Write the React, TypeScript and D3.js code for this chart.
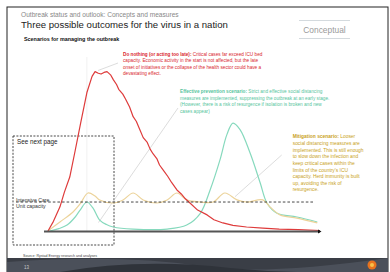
import React, { useEffect, useRef } from 'react';
import * as d3 from 'd3';

// time units 0..100 on the x axis, share of peak cases 0..100 on y
const redTime = [0, 2, 4.4, 6, 8, 10, 12, 14.3, 16.2, 17.3, 18.5, 19.5, 20.6, 21.7, 23, 24, 25.2, 26, 27.5, 28.5, 30, 31.3, 32.5, 33.5, 35, 36.5, 37.5, 38.6, 40, 41, 42.3, 44, 45.5, 47.4, 49, 50.5, 52.2, 55, 58.5, 61, 64.3, 68, 73, 79, 85, 92, 100];
const redCases = [0, 6, 15, 24, 33.5, 50, 67, 86, 96, 99, 98, 97.5, 98.5, 99, 97, 94, 91, 88, 85, 82, 77, 71, 68, 64, 58, 55, 51, 48, 45, 41, 38, 34, 30, 25.5, 23, 20, 17.4, 13, 10, 7, 5, 3.5, 2.5, 1.8, 1.2, 0.8, 0.3];

const greenTime = [0.7, 4, 7, 10, 11.8, 14.3, 16.5, 19, 21.5, 24, 31.3, 43.8, 51, 56, 59.6, 63.2, 65.8, 68, 70.6, 74.3, 78, 80.5, 84.2, 91.5, 99];
const greenCases = [0, 1.5, 3.7, 8.7, 13, 18, 14.3, 6.8, 4, 2.5, 1.2, 1.2, 3.7, 11, 25.5, 44, 60, 67, 63, 48.4, 30, 17.4, 11, 8.7, 5.6];

const yellowTime = [0, 4.4, 9.2, 11.8, 14.7, 17.3, 19, 24, 27.6, 31.3, 35, 40, 43.8, 47.4, 51, 56, 60.7, 65, 69.5, 73, 79, 81.6, 85.3, 91.5, 99];
const yellowCases = [0, 5.6, 11.8, 16.8, 23.6, 21.7, 19.3, 17.4, 19.3, 23.6, 19.3, 17.4, 19.3, 23.6, 19.3, 18, 18, 23.6, 19.3, 18, 19.3, 15, 10, 8, 5];

const icuCapacity = 18;
const peakMarker = 14.3;

const redNote = [
  ['Do nothing (or acting too late):', ' Critical cases far exceed ICU bed'],
  ['', 'capacity. Economic activity in the start is not affected, but the late'],
  ['', 'onset of initiatives or the collapse of the health sector could have a'],
  ['', 'devastating effect.'],
];
const greenNote = [
  ['Effective prevention scenario:', ' Strict and effective social distancing'],
  ['', 'measures are implemented, suppressing the outbreak at an early stage.'],
  ['', '(However, there is a risk of resurgence if isolation is broken and new'],
  ['', 'cases appear)'],
];
const yellowNote = [
  ['Mitigation scenario:', ' Looser'],
  ['', 'social distancing measures are'],
  ['', 'implemented. This is still enough'],
  ['', 'to slow down the infection and'],
  ['', 'keep critical cases within the'],
  ['', "limits of the country's ICU"],
  ['', 'capacity.  Herd immunity is built'],
  ['', 'up, avoiding the risk of'],
  ['', 'resurgence.'],
];

const font = '"Liberation Sans", Arial, sans-serif';

export default function App() {
  const ref = useRef<SVGSVGElement>(null);

  useEffect(() => {
    const svg = d3.select(ref.current);
    svg.selectAll('*').remove();

    const x = d3.scaleLinear().domain([0, 100]).range([48, 320]);
    const y = d3.scaleLinear().domain([0, 100]).range([231, 70]);

    // slide frame
    svg.append('rect').attr('width', 390).attr('height', 272).attr('fill', '#fff');
    svg.append('rect').attr('x', 7).attr('y', 7).attr('width', 381).attr('height', 270)
      .attr('fill', '#fff').attr('stroke', '#222').attr('stroke-width', 1);

    // footer band
    svg.append('rect').attr('x', 7).attr('y', 258).attr('width', 381).attr('height', 14).attr('fill', '#3a3e46');
    svg.append('path').attr('d', 'M7,262 Q120,254 200,266 Q260,276 388,258 L388,272 L7,272 Z').attr('fill', '#4b505a');
    svg.append('path').attr('d', 'M60,272 Q140,258 230,268 Q280,273 330,272 Z').attr('fill', '#2f333a');
    svg.append('text').attr('x', 24).attr('y', 268.5).text('13')
      .attr('font-family', font).attr('font-size', 4.5).attr('fill', '#c8c8c8');
    svg.append('circle').attr('cx', 372).attr('cy', 265).attr('r', 4.5).attr('fill', '#e8731e');
    svg.append('circle').attr('cx', 372).attr('cy', 265).attr('r', 2).attr('fill', '#f6c14a');

    // headings
    svg.append('text').attr('x', 21).attr('y', 17).text('Outbreak status and outlook: Concepts and measures')
      .attr('font-family', font).attr('font-size', 6.6).attr('fill', '#888');
    svg.append('text').attr('x', 21).attr('y', 28).text('Three possible outcomes for the virus in a nation')
      .attr('font-family', font).attr('font-size', 9.6).attr('fill', '#222');
    svg.append('text').attr('x', 24).attr('y', 41).text('Scenarios for managing the outbreak')
      .attr('font-family', font).attr('font-size', 5.4).attr('font-weight', 'bold').attr('fill', '#111');

    svg.append('line').attr('x1', 299).attr('x2', 350).attr('y1', 20.5).attr('y2', 20.5).attr('stroke', '#c9d0d6').attr('stroke-width', 0.8);
    svg.append('line').attr('x1', 299).attr('x2', 350).attr('y1', 38.5).attr('y2', 38.5).attr('stroke', '#c9d0d6').attr('stroke-width', 0.8);
    svg.append('text').attr('x', 324.5).attr('y', 33).attr('text-anchor', 'middle').text('Conceptual')
      .attr('font-family', font).attr('font-size', 8.4).attr('fill', '#9a9a9a');

    // peak marker and ICU line
    svg.append('line').attr('x1', x(peakMarker)).attr('x2', x(peakMarker)).attr('y1', 57).attr('y2', y(0))
      .attr('stroke', '#e6e6e6').attr('stroke-width', 0.6);

    // see next page box
    svg.append('rect').attr('x', 13).attr('y', 136).attr('width', 101).attr('height', 109)
      .attr('fill', 'none').attr('stroke', '#333').attr('stroke-width', 0.9).attr('stroke-dasharray', '2,1.4');
    svg.append('text').attr('x', 17).attr('y', 143.5).text('See next page')
      .attr('font-family', font).attr('font-size', 6.3).attr('fill', '#222');

    // pointers
    const pointers = [[118, 63, 98, 70.5], [178, 108, 98.5, 222.5], [281.7, 155, 235, 196.7]];
    svg.append('g').selectAll('line').data(pointers).enter().append('line')
      .attr('x1', (d) => d[0]).attr('y1', (d) => d[1]).attr('x2', (d) => d[2]).attr('y2', (d) => d[3])
      .attr('stroke', '#c4c4c4').attr('stroke-width', 0.6);

    // curves
    const line = (curve: d3.CurveFactory) => d3.line<[number, number]>()
      .x((d) => x(d[0])).y((d) => y(d[1])).curve(curve);
    const pair = (t: number[], v: number[]) => t.map((d, i) => [d, v[i]] as [number, number]);

    svg.append('path').attr('d', line(d3.curveCatmullRom)(pair(greenTime, greenCases)))
      .attr('fill', 'none').attr('stroke', '#86d9bd').attr('stroke-width', 1.2);
    svg.append('path').attr('d', line(d3.curveCatmullRom)(pair(yellowTime, yellowCases)))
      .attr('fill', 'none').attr('stroke', '#ecd39a').attr('stroke-width', 1.2);
    svg.append('path').attr('d', line(d3.curveLinear)(pair(redTime, redCases)))
      .attr('fill', 'none').attr('stroke', '#de3b3b').attr('stroke-width', 1.2).attr('stroke-linejoin', 'round');

    svg.append('line').attr('x1', 16).attr('x2', 313).attr('y1', y(icuCapacity)).attr('y2', y(icuCapacity))
      .attr('stroke', '#333').attr('stroke-width', 0.9).attr('stroke-dasharray', '2.6,2');
    svg.append('text').attr('x', 16).attr('y', 201.5).text('Intensive Care')
      .attr('font-family', font).attr('font-size', 5.2).attr('fill', '#333');
    svg.append('text').attr('x', 16).attr('y', 207.5).text('Unit capacity')
      .attr('font-family', font).attr('font-size', 5.2).attr('fill', '#333');

    // x axis
    svg.append('line').attr('x1', 44).attr('x2', x(100)).attr('y1', y(0) + 0.5).attr('y2', y(0) + 0.5)
      .attr('stroke', '#555').attr('stroke-width', 1.8);
    svg.append('path').attr('d', `M${x(100) - 2},${y(0) - 1.5} L${x(100) + 1.5},${y(0) + 0.5} L${x(100) - 2},${y(0) + 2.5} Z`).attr('fill', '#111');

    // notes
    const note = (rows: string[][], x0: number, y0: number, step: number, color: string, size: number) => {
      const t = svg.append('g').attr('font-family', font).attr('font-size', size).attr('fill', color);
      rows.forEach((r, i) => {
        const tx = t.append('text').attr('x', x0).attr('y', y0 + i * step);
        if (r[0]) tx.append('tspan').attr('font-weight', 'bold').text(r[0]);
        tx.append('tspan').text(r[1]);
      });
    };
    note(redNote, 123, 55.7, 6.4, '#d9262e', 4.7);
    note(greenNote, 180, 93.4, 6.4, '#55c49c', 4.7);
    note(yellowNote, 292.7, 138.4, 6.62, '#c9a21c', 4.9);

    svg.append('text').attr('x', 23).attr('y', 256.5).text('Source: Rystad Energy research and analyses')
      .attr('font-family', font).attr('font-size', 3.6).attr('fill', '#444');
  }, []);

  return <svg ref={ref} width={390} height={272} style={{ position: 'absolute', left: 0, top: 0 }} />;
}
